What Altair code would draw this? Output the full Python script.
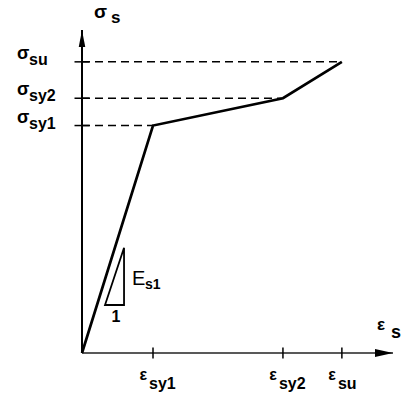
import altair as alt
import pandas as pd

# Trilinear stress-strain law of reinforcing steel, normalised to the first yield point
strain = [0.0, 1.0, 2.83, 3.66]          # 0, eps_sy1, eps_sy2, eps_su
stress = [0.0, 1.0, 1.12, 1.28]          # 0, sig_sy1, sig_sy2, sig_su
point_subs = ["", "sy1", "sy2", "su"]
x_end = 4.38                              # end of the strain axis
y_end = 1.42                              # end of the stress axis

# slope triangle on the elastic branch (E_s1 : 1)
tri_x = [0.592, 0.324, 0.592, 0.592]
tri_y = [0.463, 0.211, 0.211, 0.463]

FONT = "Liberation Sans"
INK = "#000000"

curve = pd.DataFrame({"e": strain, "s": stress, "o": list(range(len(strain))), "sub": point_subs})
yields = curve.iloc[1:].reset_index(drop=True)
tri = pd.DataFrame({"e": tri_x, "s": tri_y, "o": list(range(len(tri_x)))})

xs = alt.Scale(domain=[0, x_end], nice=False, zero=False)
ys = alt.Scale(domain=[0, y_end], nice=False, zero=False)


def X(field="e"):
    return alt.X(f"{field}:Q", scale=xs, axis=None)


def Y(field="s"):
    return alt.Y(f"{field}:Q", scale=ys, axis=None)


def label(df, text=None, size=16, weight="bold", align="left", dx=0, dy=0):
    kw = dict(font=FONT, fontSize=size, fontWeight=weight, align=align,
              baseline="alphabetic", dx=dx, dy=dy, color=INK)
    if text is not None:
        kw["text"] = text
    return alt.Chart(df).mark_text(**kw)


base = alt.Chart(curve)

# axes with arrow heads
axes_df = pd.DataFrame({"e0": [0.0, 0.0], "e1": [x_end, 0.0], "s0": [0.0, 0.0], "s1": [0.0, y_end]})
axis_x = alt.Chart(axes_df.iloc[[0]]).mark_rule(color="#222", strokeWidth=1.5).encode(
    x=X("e0"), x2="e1:Q", y=Y("s0"))
axis_y = alt.Chart(axes_df.iloc[[1]]).mark_rule(color=INK, strokeWidth=2).encode(
    x=X("e0"), y=Y("s0"), y2="s1:Q")

tips = pd.DataFrame({"e": [x_end], "s": [0.0]})
arrow_x = alt.Chart(tips).mark_point(
    shape="M0,0 L-2,-0.45 L-2,0.45 Z", size=324, filled=True, color=INK, opacity=1, strokeWidth=0
).encode(x=X(), y=Y())
tips_y = pd.DataFrame({"e": [0.0], "s": [y_end]})
arrow_y = alt.Chart(tips_y).mark_point(
    shape="M0,0 L-0.36,1.9 L0.36,1.9 Z", size=324, filled=True, color=INK, opacity=1, strokeWidth=0
).encode(x=X(), y=Y())

# tick marks on both axes
ticks_x = alt.Chart(yields).mark_tick(orient="vertical", size=11, thickness=1.5, color=INK, opacity=1).encode(
    x=X(), y=alt.Y("zero:Q", scale=ys, axis=None)).transform_calculate(zero="0")
ticks_y = alt.Chart(yields).mark_tick(orient="horizontal", size=15, thickness=1.5, color=INK, opacity=1).encode(
    x=alt.X("zero:Q", scale=xs, axis=None), y=Y()).transform_calculate(zero="0")

# dashed guides from the stress axis to each characteristic point
guides = alt.Chart(yields).mark_rule(color=INK, strokeWidth=1.5, strokeDash=[8, 5]).encode(
    x=alt.X("zero:Q", scale=xs, axis=None), x2="e:Q", y=Y()).transform_calculate(zero="0")

# the stress-strain curve
law = base.mark_line(color=INK, strokeWidth=2.7, strokeJoin="miter").encode(x=X(), y=Y(), order="o:Q")

# slope triangle
triangle = alt.Chart(tri).mark_line(color=INK, strokeWidth=1.8, strokeJoin="miter").encode(
    x=X(), y=Y(), order="o:Q")

# stress labels on the vertical axis
y_main = label(yields, "σ", size=18, dx=-65, dy=-3).encode(
    x=alt.X("zero:Q", scale=xs, axis=None), y=Y()).transform_calculate(zero="0")
y_sub = label(yields, size=16, dx=-53, dy=3).encode(
    x=alt.X("zero:Q", scale=xs, axis=None), y=Y(), text="sub:N").transform_calculate(zero="0")

# strain labels on the horizontal axis
x_main = label(yields, "ε", size=16, align="right", dx=-6, dy=27).encode(
    x=X(), y=alt.Y("zero:Q", scale=ys, axis=None)).transform_calculate(zero="0")
x_sub = label(yields, size=16, dx=-4, dy=36).encode(
    x=X(), y=alt.Y("zero:Q", scale=ys, axis=None), text="sub:N").transform_calculate(zero="0")

# axis titles
sig_title = label(tips_y, "σ", size=19, dx=12, dy=-12).encode(x=X(), y=Y())
sig_title_sub = label(tips_y, "s", size=17, dx=29, dy=-7).encode(x=X(), y=Y())
eps_title = label(tips, "ε", size=17, dx=-16, dy=-23).encode(x=X(), y=Y())
eps_title_sub = label(tips, "s", size=18, dx=-2, dy=-15).encode(x=X(), y=Y())

# modulus annotation next to the slope triangle
corner = tri.iloc[[2]]
e_lab = label(corner, "E", size=20, weight="normal", dx=8, dy=-20).encode(x=X(), y=Y())
e_sub = label(corner, "s1", size=14, dx=21, dy=-16).encode(x=X(), y=Y())
one_lab = label(corner, "1", size=16, align="center", dx=-8, dy=17).encode(x=X(), y=Y())

chart = alt.layer(
    guides, axis_x, axis_y, ticks_x, ticks_y, arrow_x, arrow_y, law, triangle,
    y_main, y_sub, x_main, x_sub, sig_title, sig_title_sub, eps_title, eps_title_sub,
    e_lab, e_sub, one_lab,
).properties(
    width=311, height=323,
    autosize=alt.AutoSizeParams(type="none"),
    padding={"left": 82, "top": 30, "right": 20, "bottom": 43},
    background="white",
).configure_view(stroke=None)

chart.save("out.html", embed_options={"renderer": "svg", "actions": False})
